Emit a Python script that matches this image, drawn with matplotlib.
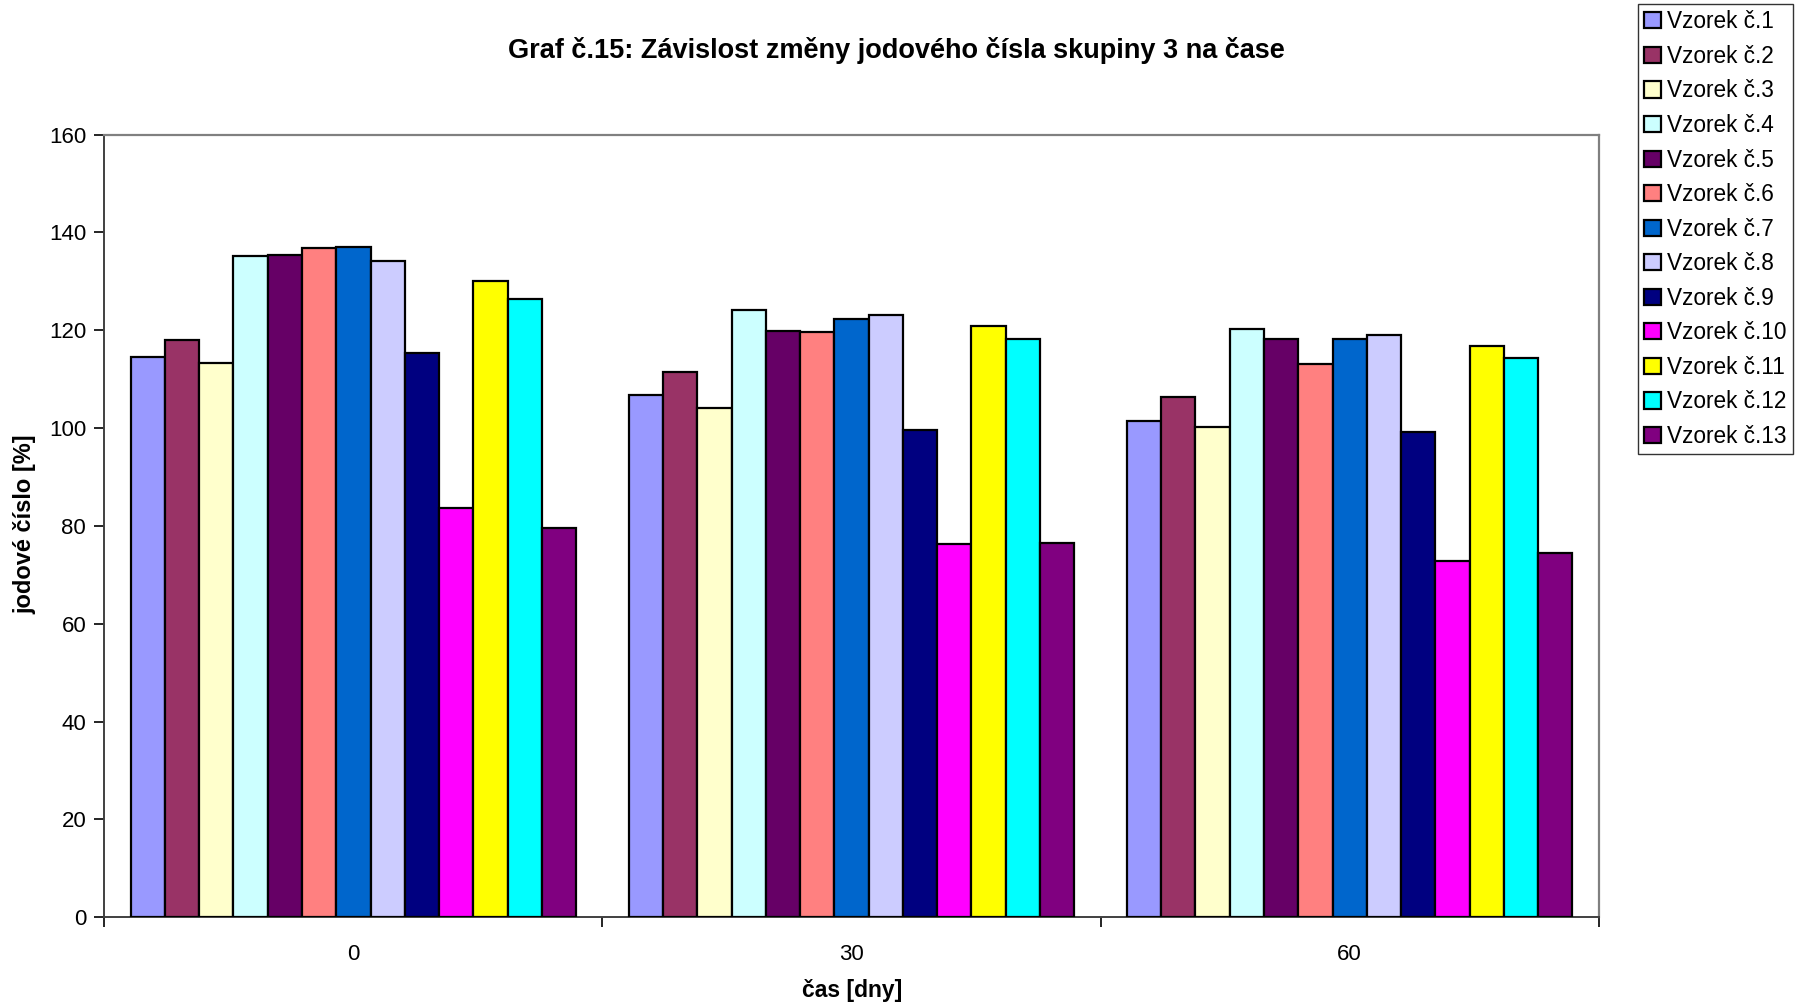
import matplotlib
matplotlib.use("Agg")
import matplotlib.pyplot as plt
import numpy as np
from matplotlib.patches import Patch
from matplotlib.ticker import FixedLocator, NullFormatter

plt.rcParams['font.family'] = ['Liberation Sans', 'DejaVu Sans']

days = ["0", "30", "60"]
samples = [f"Vzorek č.{i}" for i in range(1, 14)]

# iodine value [%] of each sample at day 0, 30, 60
vzorek_1 = [114.6, 106.8, 101.5]
vzorek_2 = [118.0, 111.4, 106.3]
vzorek_3 = [113.3, 104.2, 100.2]
vzorek_4 = [135.2, 124.2, 120.3]
vzorek_5 = [135.4, 119.9, 118.2]
vzorek_6 = [136.8, 119.7, 113.0]
vzorek_7 = [137.1, 122.2, 118.2]
vzorek_8 = [134.1, 123.1, 119.1]
vzorek_9 = [115.3, 99.7, 99.3]
vzorek_10 = [83.6, 76.4, 72.8]
vzorek_11 = [130.0, 120.9, 116.8]
vzorek_12 = [126.4, 118.2, 114.3]
vzorek_13 = [79.6, 76.5, 74.5]

series = [vzorek_1, vzorek_2, vzorek_3, vzorek_4, vzorek_5, vzorek_6, vzorek_7,
          vzorek_8, vzorek_9, vzorek_10, vzorek_11, vzorek_12, vzorek_13]

colors = ["#9999FF", "#993366", "#FFFFCC", "#CCFFFF", "#660066", "#FF8080",
          "#0066CC", "#CCCCFF", "#000080", "#FF00FF", "#FFFF00", "#00FFFF",
          "#800080"]

fig = plt.figure(figsize=(17.98, 10.08), dpi=100)
ax = fig.add_axes([0.0580, 0.0900, 0.8312, 0.7765])

n = len(series)
bar_w = 0.0688
x = np.arange(len(days))
for i, (vals, c) in enumerate(zip(series, colors)):
    offs = (i - (n - 1) / 2) * bar_w
    ax.bar(x + offs, vals, width=bar_w, color=c, edgecolor="black",
           linewidth=1.6, label=samples[i], zorder=3)

ax.set_xlim(-0.5, 2.5)
ax.set_ylim(0, 160)
ax.set_yticks(np.arange(0, 161, 20))
ax.tick_params(axis='y', direction='out', length=7, width=1.2, labelsize=16,
               pad=6, color="black")

# category ticks at group boundaries, labels centred under the groups
ax.xaxis.set_major_locator(FixedLocator([-0.5, 0.5, 1.5, 2.5]))
ax.xaxis.set_major_formatter(NullFormatter())
ax.xaxis.set_minor_locator(FixedLocator(x))
ax.set_xticklabels(days, minor=True)
ax.tick_params(axis='x', which='major', direction='out', length=7, width=1.2)
ax.tick_params(axis='x', which='minor', length=0, labelsize=16, pad=19)

for side in ["top", "right"]:
    ax.spines[side].set_color("#808080")
    ax.spines[side].set_linewidth(1.6)
for side in ["left", "bottom"]:
    ax.spines[side].set_color("#404040")
    ax.spines[side].set_linewidth(1.4)

fig.text(0.4985, 0.950, "Graf č.15: Závislost změny jodového čísla skupiny 3 na čase",
         ha="center", va="center", fontsize=19.5, fontweight="bold")
fig.text(0.474, 0.017, "čas [dny]", ha="center", va="center",
         fontsize=16.5, fontweight="bold")
fig.text(0.0140, 0.480, "jodové číslo [%]", ha="center", va="center",
         rotation=90, fontsize=17, fontweight="bold")

handles = [Patch(facecolor=c, edgecolor="black", linewidth=1.6) for c in colors]
leg = fig.legend(handles, samples, loc="upper left",
                 bbox_to_anchor=(1638 / 1798, 1 - 4 / 1008),
                 fontsize=16.3, frameon=True, fancybox=False, edgecolor="black",
                 handlelength=0.72, handleheight=0.72, handletextpad=0.3,
                 labelspacing=0.51, borderpad=0.28, borderaxespad=0.0)
leg.get_frame().set_linewidth(1.0)

fig.savefig("out.png", dpi=100, facecolor="white")
